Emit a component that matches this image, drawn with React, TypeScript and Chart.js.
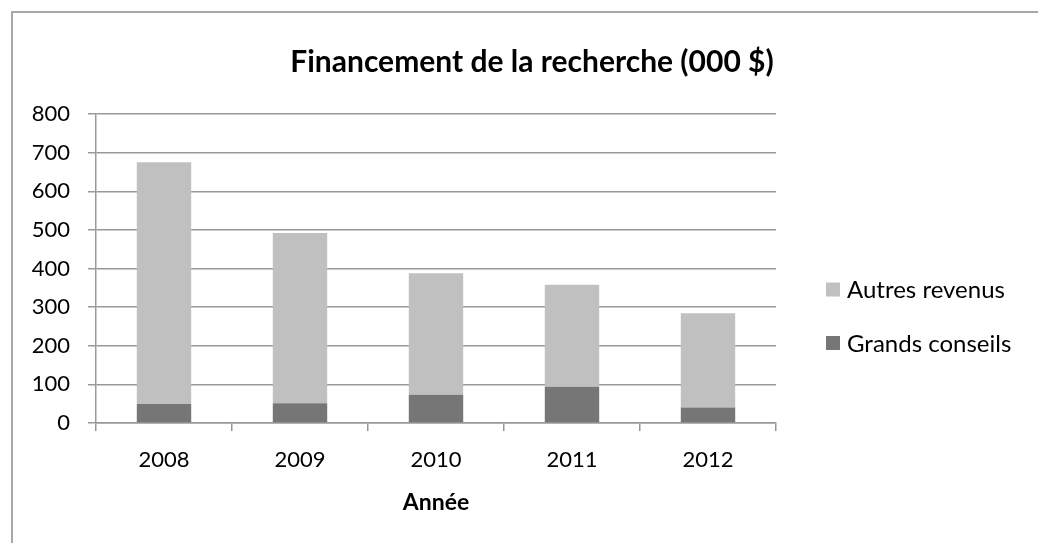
import React, { useEffect, useRef } from 'react';
import { Chart, registerables } from 'chart.js';

Chart.register(...registerables);

const years = ['2008', '2009', '2010', '2011', '2012'];
const grandsConseils = [49, 51, 73, 94, 40];
const autresRevenus = [626, 441, 315, 264, 244];
const chartTitle = 'Financement de la recherche (000 $)';
const xTitle = 'Année';

const FONT = 'Lato';

export default function App() {
  const ref = useRef<HTMLCanvasElement>(null);

  useEffect(() => {
    if (!ref.current) return;
    const sideLegend = {
      id: 'sideLegend',
      afterDraw(chart: any) {
        const ctx = chart.ctx;
        const area = chart.chartArea;
        const ds = [...chart.data.datasets].reverse();
        ctx.save();
        ctx.font = `24px ${FONT}`;
        ctx.textBaseline = 'middle';
        ctx.textAlign = 'left';
        ds.forEach((d: any, i: number) => {
          const cy = (area.top + area.bottom) / 2 + 21 + i * 53.5;
          const x = area.right + 50;
          ctx.fillStyle = d.backgroundColor;
          ctx.fillRect(x, cy - 7, 14, 14);
          ctx.fillStyle = '#000';
          ctx.fillText(d.label, x + 21, cy + 1);
        });
        ctx.restore();
      },
    };

    const chart = new Chart(ref.current, {
      type: 'bar',
      data: {
        labels: years,
        datasets: [
          {
            label: 'Grands conseils',
            data: grandsConseils,
            backgroundColor: '#767676',
            categoryPercentage: 1,
            barPercentage: 0.4,
          },
          {
            label: 'Autres revenus',
            data: autresRevenus,
            backgroundColor: '#c0c0c0',
            categoryPercentage: 1,
            barPercentage: 0.4,
          },
        ],
      },
      options: {
        animation: false,
        responsive: false,
        layout: { padding: { left: 26, right: 0, top: 0, bottom: 0 } },
        plugins: {
          legend: { display: false },
          tooltip: { enabled: false },
          title: {
            display: true,
            text: chartTitle,
            color: '#000',
            font: { family: FONT, size: 30, weight: 'bold', lineHeight: 1.2 },
            padding: { top: 44, bottom: 34 },
          },
        },
        scales: {
          x: {
            stacked: true,
            grid: {
              display: true,
              offset: true,
              drawOnChartArea: false,
              drawTicks: true,
              tickLength: 8,
              color: '#999',
              lineWidth: 1.5,
            },
            border: { display: true, color: '#999', width: 1.5 },
            ticks: {
              color: '#000',
              font: { family: FONT, size: 22 },
              padding: 16,
            },
            title: {
              display: true,
              text: xTitle,
              color: '#000',
              font: { family: FONT, size: 23, weight: 'bold', lineHeight: 1.2 },
              padding: { top: 0, bottom: 27 },
            },
            afterFit(s: any) {
              s.height = 120;
            },
          },
          y: {
            stacked: true,
            min: 0,
            max: 800,
            ticks: {
              stepSize: 100,
              color: '#000',
              font: { family: FONT, size: 22 },
              padding: 18,
            },
            grid: {
              color: '#999',
              lineWidth: 1.5,
              tickLength: 8,
            },
            border: { display: true, color: '#999', width: 1.5 },
            afterFit(s: any) {
              s.width = 70;
            },
          },
          yRight: {
            type: 'linear',
            position: 'right',
            display: true,
            grid: { display: false },
            border: { display: false },
            ticks: { display: false },
            afterFit(s: any) {
              s.width = 262;
            },
          },
        },
      },
      plugins: [sideLegend],
    } as any);

    return () => chart.destroy();
  }, []);

  return (
    <div
      style={{
        position: 'fixed',
        left: 0,
        top: 0,
        width: 1038,
        height: 543,
        overflow: 'hidden',
        background: '#fff',
      }}
    >
      <div
        style={{
          position: 'absolute',
          left: 11,
          top: 11,
          width: 1100,
          height: 600,
          border: '2px solid #a8a8a8',
        }}
      />
      <canvas
        ref={ref}
        width={1038}
        height={543}
        style={{ position: 'absolute', left: 0, top: 0, width: 1038, height: 543 }}
      />
    </div>
  );
}
